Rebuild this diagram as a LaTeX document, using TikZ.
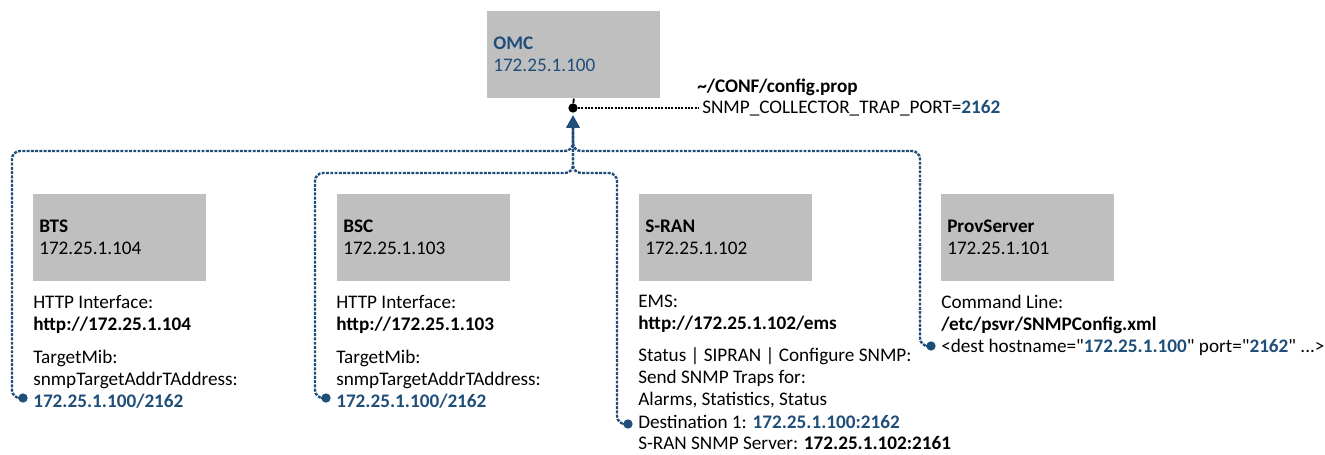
\documentclass[tikz,border=0pt]{standalone}
\usepackage{fontspec}
\setmainfont{Carlito}
\usetikzlibrary{arrows.meta,positioning}
\definecolor{bleu}{HTML}{1F4E79}
\definecolor{gris}{HTML}{BFBFBF}
\tikzset{
    devbox/.style={fill=gris, anchor=north west, minimum width=129.75pt,
        minimum height=65.25pt, text width=120.75pt, inner xsep=4.5pt,
        align=left, font=\fontsize{14.4}{16.5}\selectfont},
    infotxt/.style={anchor=base west, inner sep=0pt, align=left,
        font=\fontsize{14.4}{16.5}\selectfont},
    bluedot/.style={circle, fill=bleu, inner sep=0pt, minimum size=7pt},
    hubdot/.style={circle, fill=black, inner sep=0pt, minimum size=7pt},
    link/.style={draw=bleu, line width=1.8pt, dash pattern=on 2.2pt off 1pt,
        rounded corners=6pt, -{Triangle[length=9pt,width=9.5pt]}, shorten >=2pt},
    cfglink/.style={draw=black, line width=1.4pt, dash pattern=on 1.6pt off 0.9pt}
}
\newcommand{\bl}[1]{\textcolor{bleu}{\textbf{#1}}}
\begin{document}
\begin{tikzpicture}[x=0.75pt,y=-0.75pt]
    \useasboundingbox (0,0) rectangle (1325,454);
    % OMC (en haut)
    \node[devbox] (omc) at (487,11) {\bl{OMC}\\\textcolor{bleu}{172.25.1.100}};
    \node[hubdot] (hub) at (573,108) {};
    \draw[black, line width=1.4pt] (omc.south) -- (hub);
    \node[infotxt] (cfgfile) at (697,92) {\textbf{\textasciitilde/CONF/config.prop}};
    \node[infotxt] (cfgport) at (702,113) {SNMP\_COLLECTOR\_TRAP\_PORT=\bl{2162}};
    \draw[cfglink] (hub) -- ([xshift=-3pt]cfgport.west |- hub);
    % Equipements
    \node[devbox] (bts) at (33,194) {\textbf{BTS}\\172.25.1.104};
    \node[devbox] (bsc) at (337,194) {\textbf{BSC}\\172.25.1.103};
    \node[devbox] (sran) at (639,194) {\textbf{S-RAN}\\172.25.1.102};
    \node[devbox] (prov) at (941,194) {\textbf{ProvServer}\\172.25.1.101};
    % Textes sous les equipements (ancre = ligne de base de la derniere ligne)
    \node[infotxt] (bts-info) at (33,407) {HTTP Interface:\\\textbf{http://172.25.1.104}\\[8.25pt]
        TargetMib:\\snmpTargetAddrTAddress:\\\bl{172.25.1.100/2162}};
    \node[infotxt] (bsc-info) at (336,407) {HTTP Interface:\\\textbf{http://172.25.1.103}\\[8.25pt]
        TargetMib:\\snmpTargetAddrTAddress:\\\bl{172.25.1.100/2162}};
    \node[infotxt] (sran-info) at (638,449) {EMS:\\\textbf{http://172.25.1.102/ems}\\[7pt]
        Status | SIPRAN | Configure SNMP:\\Send SNMP Traps for:\\Alarms, Statistics, Status\\[1pt]
        Destination 1: \bl{172.25.1.100:2162}\\[-1pt]
        S-RAN SNMP Server: \textbf{172.25.1.102:2161}};
    \node[infotxt] (prov-info) at (941,352) {Command Line:\\\textbf{/etc/psvr/SNMPConfig.xml}\\
        <dest hostname=\textquotedbl\bl{172.25.1.100}\textquotedbl{} port=\textquotedbl\bl{2162}\textquotedbl{} ...>};
    % Points de depart des liaisons
    \node[bluedot] (bts-dot) at (23,398) {};
    \node[bluedot] (bsc-dot) at (326,398) {};
    \node[bluedot] (sran-dot) at (628,424) {};
    \node[bluedot] (prov-dot) at (931,346) {};
    % Liaisons vers l'OMC
    \foreach \src/\lvl in {bts-dot/151, bsc-dot/173, sran-dot/173, prov-dot/151} {
        \draw[link] (\src) -- ++(-11,0) |- (573,\lvl) -- (hub);}
\end{tikzpicture}
\end{document}
